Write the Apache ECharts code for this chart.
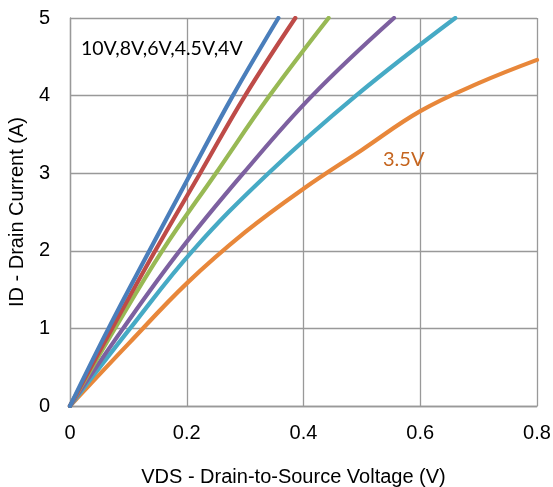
<!DOCTYPE html>
<html>
<head>
<meta charset="utf-8">
<script src="https://cdn.jsdelivr.net/npm/echarts@6/dist/echarts.min.js"></script>
<style>html,body{margin:0;padding:0;background:#fff}#c{width:553px;height:487px}</style>
</head>
<body>
<div id="c"></div>
<script>
// Data (VDS in V, ID in A)
const xTicks = [0, 0.2, 0.4, 0.6, 0.8];
const yTicks = [0, 1, 2, 3, 4, 5];
const seriesNames = ['10V', '8V', '6V', '4.5V', '4V', '3.5V'];
const vds10V = [0, 0.066, 0.136, 0.207, 0.279, 0.357];
const id10V  = [0, 1, 2, 3, 4, 5];
const vds8V  = [0, 0.072, 0.146, 0.223, 0.300, 0.386];
const id8V   = [0, 1, 2, 3, 4, 5];
const vds6V  = [0, 0.077, 0.158, 0.250, 0.342, 0.443];
const id6V   = [0, 1, 2, 3, 4, 5];
const vds45V = [0, 0.091, 0.188, 0.297, 0.415, 0.555];
const id45V  = [0, 1, 2, 3, 4, 5];
const vds4V  = [0, 0.103, 0.210, 0.340, 0.490, 0.660];
const id4V   = [0, 1, 2, 3, 4, 5];
const vds35V = [0, 0.1, 0.2, 0.3, 0.4, 0.5, 0.6, 0.7, 0.8];
const id35V  = [0, 0.8, 1.58, 2.24, 2.8, 3.3, 3.8, 4.16, 4.46];
const labelGroup = '10V,8V,6V,4.5V,4V';
const label35 = '3.5V';

const colors = ['#4A7EBB', '#BE4B48', '#98B954', '#7D60A0', '#46AAC5', '#E8873A'];
const xs = [vds10V, vds8V, vds6V, vds45V, vds4V, vds35V];
const ys = [id10V, id8V, id6V, id45V, id4V, id35V];

const chart = echarts.init(document.getElementById('c'), null, {renderer: 'canvas'});
const series = seriesNames.map((n, i) => ({
  name: n,
  type: 'line',
  data: xs[i].map((v, k) => [v, ys[i][k]]),
  smooth: 0.4,
  showSymbol: false,
  symbol: 'none',
  clip: true,
  lineStyle: {color: colors[i], width: 4.2, cap: 'round', join: 'round'},
  z: 10 - i
}));

chart.setOption({
  animation: false,
  backgroundColor: '#fff',
  grid: {left: 70, right: 16, top: 18, bottom: 81, containLabel: false, outerBoundsMode: 'none'},
  xAxis: {
    type: 'value', min: xTicks[0], max: xTicks[xTicks.length - 1], interval: 0.2,
    name: 'VDS - Drain-to-Source Voltage (V)',
    nameLocation: 'middle', nameGap: 61,
    nameTextStyle: {fontFamily: 'Liberation Sans', fontSize: 20, color: '#000', padding: [0, 20, 0, 0]},
    axisLine: {show: true, lineStyle: {color: '#999', width: 1.3}},
    axisTick: {show: false},
    axisLabel: {fontFamily: 'Liberation Sans', fontSize: 20, color: '#000', margin: 17},
    splitLine: {show: true, lineStyle: {color: '#999', width: 1.3}}
  },
  yAxis: {
    type: 'value', min: yTicks[0], max: yTicks[yTicks.length - 1], interval: 1,
    name: 'ID - Drain Current (A)',
    nameLocation: 'middle', nameGap: 36,
    nameTextStyle: {fontFamily: 'Liberation Sans', fontSize: 20, color: '#000'},
    axisLine: {show: true, lineStyle: {color: '#999', width: 1.3}},
    axisTick: {show: false},
    axisLabel: {fontFamily: 'Liberation Sans', fontSize: 20, color: '#000', margin: 20},
    splitLine: {show: true, lineStyle: {color: '#999', width: 1.3}}
  },
  graphic: [
    {type: 'text', left: 81, top: 39, z: 100,
     style: {text: labelGroup, font: '19.5px Lato', fill: '#000'}},
    {type: 'text', left: 383, top: 150, z: 100,
     style: {text: label35, font: '20px Lato', fill: '#C5651F'}}
  ],
  series: series
});
</script>
</body>
</html>
